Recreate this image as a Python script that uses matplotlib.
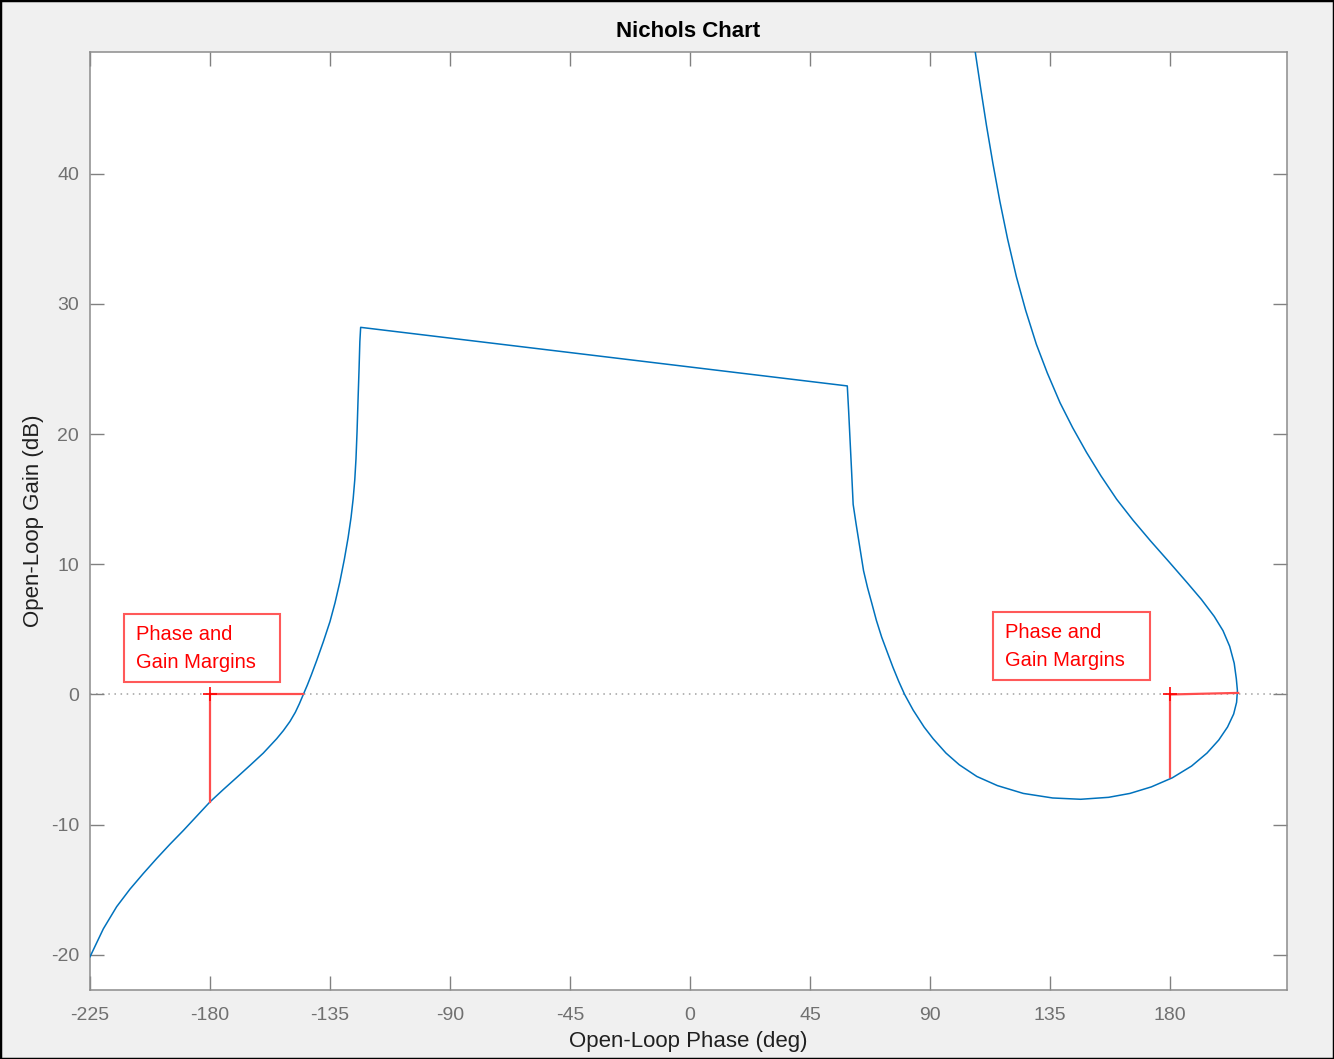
import matplotlib
matplotlib.use("Agg")
import matplotlib.pyplot as plt
from matplotlib.patches import Rectangle

plt.rcParams['font.family'] = ['Liberation Sans', 'DejaVu Sans']
plt.rcParams['axes.unicode_minus'] = False

# Open-loop response (phase in deg, gain in dB)
phase = [-225.0, -220.0, -215.0, -210.0, -205.0, -200.0, -195.0, -190.0, -185.0, -180.0,
         -175.0, -170.0, -165.0, -160.0, -155.0, -152.5, -150.0, -148.0, -146.5, -145.0,
         -143.5, -142.0, -140.0, -137.5, -135.0, -133.1, -131.3, -129.6, -128.2, -127.1,
         -126.3, -125.7, -125.25, -124.85, -124.5, -124.1, -123.8, -123.5,
         59.0, 59.5, 60.0, 60.6, 61.2, 62.3, 63.7, 65.1, 66.6, 68.2, 69.9, 71.9,
         73.9, 76.1, 78.3, 80.5,
         83.7, 87.8, 91.2, 96.0, 101.0, 107.6, 115.3, 125.0, 136.0, 146.5, 157.0,
         165.0, 173.0, 180.9, 188.1, 193.9, 198.3, 201.6, 203.9, 205.0, 205.3,
         204.9, 204.1, 202.4, 199.9, 196.6, 191.8, 186.4, 179.6, 172.7, 166.1,
         160.0, 154.1, 148.7, 143.5, 138.8, 134.0, 129.9, 125.9, 122.4, 119.1,
         116.2, 113.6, 111.2, 109.0, 106.8]
gain = [-20.15, -18.0, -16.3, -14.95, -13.75, -12.6, -11.5, -10.45, -9.35, -8.25,
        -7.3, -6.38, -5.45, -4.5, -3.4, -2.78, -2.07, -1.37, -0.72, 0.0,
        0.72, 1.5, 2.6, 4.05, 5.6, 7.05, 8.65, 10.4, 12.05, 13.6,
        15.05, 16.5, 18.1, 20.2, 22.5, 25.0, 27.1, 28.2,
        23.7, 21.8, 19.7, 17.2, 14.6, 13.1, 11.3, 9.5, 8.2, 7.0, 5.7, 4.4,
        3.3, 2.1, 1.0, 0.0,
        -1.2, -2.5, -3.4, -4.5, -5.4, -6.3, -7.0, -7.6, -7.95, -8.05, -7.9,
        -7.6, -7.1, -6.4, -5.5, -4.5, -3.5, -2.5, -1.5, -0.6, 0.3,
        1.2, 2.4, 3.7, 4.9, 6.0, 7.3, 8.6, 10.2, 11.8, 13.4,
        15.0, 16.8, 18.6, 20.5, 22.4, 24.7, 26.9, 29.5, 32.1, 35.0,
        37.9, 40.8, 43.7, 46.6, 49.6]

# margin markers: (phase at -180 / crossover, gain)
gm_left = (-180.0, -8.25)
pm_left = (-145.0, 0.0)
gm_right = (180.0, -6.35)
pm_right = (205.6, 0.12)

x_ticks = [-225, -180, -135, -90, -45, 0, 45, 90, 135, 180]
y_ticks = [-20, -10, 0, 10, 20, 30, 40]

fig = plt.figure(figsize=(13.34, 10.59), dpi=100, facecolor='#f0f0f0')
ax = fig.add_axes([90 / 1334, 1 - 990 / 1059, (1287 - 90) / 1334, (990 - 52) / 1059])

ax.set_xlim(-225, 223.9)
ax.set_ylim(-22.7, 49.35)

# 0 dB reference line
ax.axhline(0, color='#a0a0a0', linestyle=(0, (1, 3)), linewidth=1.1, zorder=1)

ax.plot(phase, gain, color='#0072BD', linewidth=1.1, zorder=3)

# margin lines
red_l = (1.0, 0.3, 0.3)
for gm, pm in [(gm_left, pm_left), (gm_right, pm_right)]:
    ax.plot([gm[0], gm[0]], [0, gm[1]], color=red_l, linewidth=1.6, zorder=4)
    ax.plot([gm[0], pm[0]], [0, pm[1]], color=red_l, linewidth=1.6, zorder=4)
    ax.plot(gm[0], 0, marker='+', color='red', markersize=10, markeredgewidth=1.2, zorder=5)

# annotation boxes
boxes = [(-212.25, 0.97, -153.75, 6.18), (113.7, 1.15, 172.5, 6.31)]
for x0, y0, x1, y1 in boxes:
    ax.add_patch(Rectangle((x0, y0), x1 - x0, y1 - y0, facecolor='white',
                           edgecolor=(1.0, 0.35, 0.35), linewidth=1.5, zorder=4))
    ax.text(x0 + 4.5, (y0 + y1) / 2 - 0.05, 'Phase and\nGain Margins', color='red',
            fontsize=14.5, va='center', ha='left', linespacing=1.55, zorder=5)

ax.set_xticks(x_ticks)
ax.set_yticks(y_ticks)
ax.tick_params(direction='in', length=10, width=1, colors='#808080', labelsize=14,
               top=True, right=True, labelcolor='#707070')
ax.tick_params(axis='x', pad=12)
ax.tick_params(axis='y', pad=8)
for s in ax.spines.values():
    s.set_color('#8c8c8c')
    s.set_linewidth(1.1)

ax.set_title('Nichols Chart', fontsize=16, fontweight='bold', color='black', pad=11)
ax.set_xlabel('Open-Loop Phase (deg)', fontsize=16, color='#202020', labelpad=5)
ax.set_ylabel('Open-Loop Gain (dB)', fontsize=16, color='#202020', labelpad=5)

fig.patches.append(Rectangle((0, 0), 1, 1, transform=fig.transFigure, fill=False,
                             edgecolor='black', linewidth=2.5))

fig.savefig('out.png', dpi=100, facecolor=fig.get_facecolor())
